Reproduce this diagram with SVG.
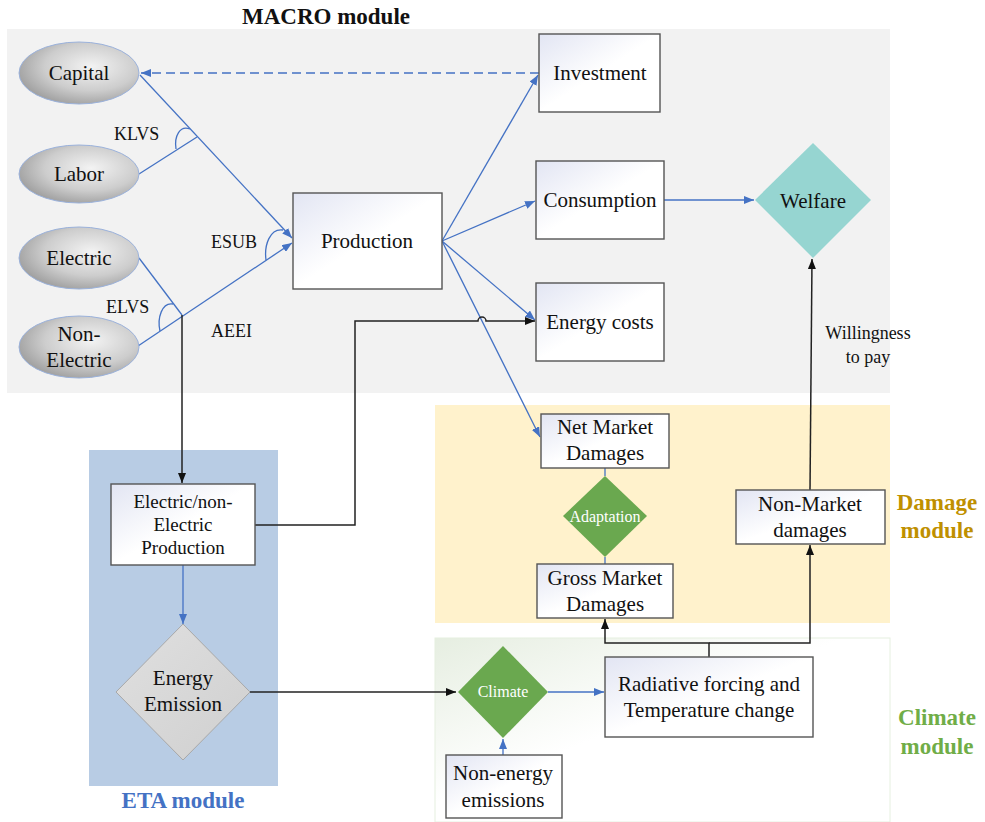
<svg xmlns="http://www.w3.org/2000/svg" width="985" height="822" viewBox="0 0 985 822">
<style>
text{font-family:"Liberation Serif","Times New Roman",serif;fill:#111;}
.t21{font-size:21px;text-anchor:middle;}
.t19{font-size:19px;text-anchor:middle;}
.t18{font-size:18px;}
.w16{font-size:16px;text-anchor:middle;fill:#fff;}
.title{font-size:23px;font-weight:bold;text-anchor:middle;}
.box{fill:url(#boxg);stroke:#555;stroke-width:1.4;}
.ell{fill:url(#ellg);stroke:#9bb2dc;stroke-width:1;}
.blue{fill:none;stroke:#4472c4;stroke-width:1.3;}
.black{fill:none;stroke:#222;stroke-width:1.5;}
.green{fill:#6aa84f;}
</style>
<defs>
<linearGradient id="boxg" x1="0" y1="0" x2="1" y2="1">
<stop offset="0" stop-color="#e2e5f3"/>
<stop offset="0.5" stop-color="#ffffff"/>
<stop offset="1" stop-color="#ffffff"/>
</linearGradient>
<radialGradient id="ellg" cx="0.6" cy="0.4" r="0.7">
<stop offset="0" stop-color="#f3f3f3"/>
<stop offset="0.55" stop-color="#cdcdcd"/>
<stop offset="1" stop-color="#959595"/>
</radialGradient>
<linearGradient id="climg" x1="0" y1="0" x2="1" y2="1">
<stop offset="0" stop-color="#e6eee1"/>
<stop offset="0.45" stop-color="#ffffff"/>
<stop offset="1" stop-color="#ffffff"/>
</linearGradient>
<linearGradient id="diag" x1="0" y1="0" x2="1" y2="1">
<stop offset="0" stop-color="#e0e0e0"/>
<stop offset="1" stop-color="#cfcfcf"/>
</linearGradient>
<marker id="ab" viewBox="0 0 10 8" refX="10" refY="4" markerWidth="10" markerHeight="8" markerUnits="userSpaceOnUse" orient="auto">
<path d="M0,0 L10,4 L0,8 z" fill="#4472c4"/>
</marker>
<marker id="ak" viewBox="0 0 10 8" refX="10" refY="4" markerWidth="10" markerHeight="8" markerUnits="userSpaceOnUse" orient="auto">
<path d="M0,0 L10,4 L0,8 z" fill="#111"/>
</marker>
</defs>

<g id="backgrounds">
<rect x="7" y="29" width="883" height="364" fill="#f2f2f2"/>
<rect x="89" y="450" width="189" height="336" fill="#b8cce4"/>
<rect x="435" y="405" width="455" height="218" fill="#fff2cc"/>
<rect x="435" y="638" width="455" height="184" fill="url(#climg)" stroke="#e6f0e0" stroke-width="1"/>
<text class="title" x="326" y="24">MACRO module</text>
<text class="title" x="183" y="808" style="fill:#4472c4">ETA module</text>
<text class="title" x="937" y="510" style="fill:#bf9000">Damage</text>
<text class="title" x="937" y="538" style="fill:#bf9000">module</text>
<text class="title" x="937" y="725" style="fill:#70ad47">Climate</text>
<text class="title" x="937" y="754" style="fill:#70ad47">module</text>
</g>

<g id="connectors">
<path class="blue" d="M539,73 H141" stroke-dasharray="9 5" marker-end="url(#ab)"/>
<path class="blue" d="M140,75 L292,238" marker-end="url(#ab)"/>
<path class="blue" d="M139,174 L197,137"/>
<path class="blue" d="M176,149 C174,136 180,125 190,129"/>
<path class="blue" d="M138,346 L292,243" marker-end="url(#ab)"/>
<path class="blue" d="M139,258 L182,315"/>
<path class="blue" d="M160,331 C157,318 162,302 173,304"/>
<path class="blue" d="M266,260 C264,245 270,228 283,230"/>
<path class="black" d="M182,315 V483" marker-end="url(#ak)"/>
<path class="blue" d="M442,241 L538,75" marker-end="url(#ab)"/>
<path class="blue" d="M442,241 L535,201" marker-end="url(#ab)"/>
<path class="blue" d="M442,241 L535,320" marker-end="url(#ab)"/>
<path class="blue" d="M442,241 L540,437" marker-end="url(#ab)"/>
<path class="blue" d="M664,200 H754" marker-end="url(#ab)"/>
<path class="black" d="M255,525 H355 V321 H478 A4,4 0 0 1 486,321 H535" marker-end="url(#ak)"/>
<path class="blue" d="M183,565 V624" marker-end="url(#ab)"/>
<path class="black" d="M250,692 H456" marker-end="url(#ak)"/>
<path class="blue" d="M548,692 H604" marker-end="url(#ab)"/>
<path class="blue" d="M503,755 V739" marker-end="url(#ab)"/>
<path class="blue" d="M605,468 V476 M605,557 V564"/>
<path class="black" d="M709,657 V643 H605 V619" marker-end="url(#ak)"/>
<path class="black" d="M709,643 H810 V545" marker-end="url(#ak)"/>
<path class="black" d="M810,490 L812,259" marker-end="url(#ak)"/>
</g>

<g id="labels">
<text class="t18" x="114" y="140">KLVS</text>
<text class="t18" x="211" y="248">ESUB</text>
<text class="t18" x="106" y="313">ELVS</text>
<text class="t18" x="211" y="337">AEEI</text>
<text class="t18" x="868" y="339" text-anchor="middle">Willingness</text>
<text class="t18" x="868" y="363" text-anchor="middle">to pay</text>
</g>

<g id="capital"><ellipse class="ell" cx="79" cy="73" rx="60" ry="31"/><text class="t21" x="79" y="80">Capital</text></g>
<g id="labor"><ellipse class="ell" cx="79" cy="174" rx="60" ry="29"/><text class="t21" x="79" y="181">Labor</text></g>
<g id="electric"><ellipse class="ell" cx="79" cy="258" rx="60" ry="31"/><text class="t21" x="79" y="265">Electric</text></g>
<g id="non-electric"><ellipse class="ell" cx="79" cy="347" rx="60" ry="31"/><text class="t21" x="79" y="341">Non-</text><text class="t21" x="79" y="367">Electric</text></g>

<g id="production"><rect class="box" x="293" y="193" width="149" height="96"/><text class="t21" x="367" y="248">Production</text></g>
<g id="investment"><rect class="box" x="539" y="34" width="121" height="78"/><text class="t21" x="600" y="80">Investment</text></g>
<g id="consumption"><rect class="box" x="536" y="161" width="128" height="78"/><text class="t21" x="600" y="207">Consumption</text></g>
<g id="energy-costs"><rect class="box" x="536" y="283" width="128" height="78"/><text class="t21" x="600" y="329">Energy costs</text></g>
<g id="welfare"><path d="M813,143 L871,200 L813,258 L755,200 z" fill="#96d5d1"/><text class="t21" x="813" y="208">Welfare</text></g>

<g id="elec-production"><rect class="box" x="111" y="484" width="144" height="81"/><text class="t19" x="183" y="508">Electric/non-</text><text class="t19" x="183" y="531">Electric</text><text class="t19" x="183" y="554">Production</text></g>
<g id="energy-emission"><path d="M183,624 L250,692 L183,760 L116,692 z" fill="url(#diag)" stroke="#a8a8a8" stroke-width="1"/><text class="t21" x="183" y="685">Energy</text><text class="t21" x="183" y="711">Emission</text></g>

<g id="net-market"><rect class="box" x="541" y="414" width="128" height="54"/><text class="t21" x="605" y="434">Net Market</text><text class="t21" x="605" y="460">Damages</text></g>
<g id="adaptation"><path class="green" d="M605,476 L647,516 L605,557 L563,516 z"/><text class="w16" x="605" y="522">Adaptation</text></g>
<g id="gross-market"><rect class="box" x="537" y="564" width="136" height="54"/><text class="t21" x="605" y="585">Gross Market</text><text class="t21" x="605" y="611">Damages</text></g>
<g id="non-market"><rect class="box" x="736" y="490" width="149" height="54"/><text class="t21" x="810" y="511">Non-Market</text><text class="t21" x="810" y="537">damages</text></g>

<g id="climate"><path class="green" d="M503,646 L548,692 L503,738 L458,692 z"/><text class="w16" x="503" y="697">Climate</text></g>
<g id="radiative"><rect class="box" x="605" y="657" width="208" height="80"/><text class="t21" x="709" y="691">Radiative forcing and</text><text class="t21" x="709" y="717">Temperature change</text></g>
<g id="non-energy"><rect class="box" x="446" y="755" width="116" height="63"/><text class="t21" x="503" y="780">Non-energy</text><text class="t21" x="503" y="807">emissions</text></g>
</svg>
